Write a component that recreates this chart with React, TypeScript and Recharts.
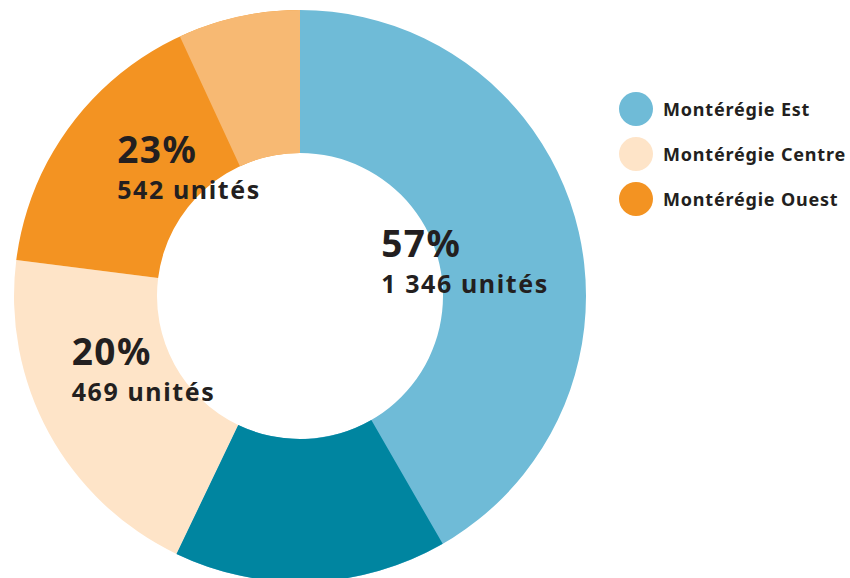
import React from "react";
import { PieChart, Pie, Cell, Legend } from "recharts";

const categories = ["Montérégie Est", "Montérégie Centre", "Montérégie Ouest"];
const units = [1346, 469, 542];
const percentLabels = ["57%", "20%", "23%"];
const unitLabels = ["1 346 unités", "469 unités", "542 unités"];
// share of each slice drawn in its accent (texture) shade, at the slice's end
const accentShares = [0.27, 0, 0.3];

const COLORS = ["#6fbbd7", "#fee4c8", "#f39322"];
const ACCENTS = ["#0085a0", "#fee4c8", "#f7b973"];
const LABEL_OFFSETS = [
  { dx: -128, dy: -86 },
  { dx: -40, dy: -34 },
  { dx: -41, dy: 28 },
];
const TEXT = "#231f20";
const FONT = "'Noto Sans', sans-serif";

const data = categories.map((name, i) => ({ name, value: units[i] }));
const accentData = categories.flatMap((name, i) => [
  { name: name + "-base", value: units[i] * (1 - accentShares[i]), fill: "transparent" },
  { name: name + "-accent", value: units[i] * accentShares[i], fill: accentShares[i] > 0 ? ACCENTS[i] : "transparent" },
]);

const RAD = Math.PI / 180;

const renderLabel = (props: any) => {
  const { cx, cy, midAngle, innerRadius, outerRadius, index } = props;
  const r = (innerRadius + outerRadius) / 2;
  const x = cx + r * Math.cos(-midAngle * RAD) + LABEL_OFFSETS[index].dx;
  const y = cy + r * Math.sin(-midAngle * RAD) + LABEL_OFFSETS[index].dy;
  return (
    <text x={x} y={y} fill={TEXT} fontFamily={FONT} fontWeight={700} textAnchor="start">
      <tspan x={x} y={y} fontSize={37} letterSpacing={1.5}>{percentLabels[index]}</tspan>
      <tspan x={x} y={y + 36} fontSize={25} letterSpacing={1.6}>{unitLabels[index]}</tspan>
    </text>
  );
};

const renderLegend = () => (
  <div style={{ fontFamily: FONT }}>
    {categories.map((c, i) => (
      <div key={c} style={{ display: "flex", alignItems: "center", height: 45 }}>
        <div style={{ width: 34, height: 34, borderRadius: "50%", background: COLORS[i], marginRight: 10 }} />
        <span style={{ fontSize: 18, fontWeight: 700, color: TEXT, letterSpacing: 0.8 }}>{c}</span>
      </div>
    ))}
  </div>
);

export default function App() {
  return (
    <div style={{ position: "absolute", left: 0, top: 0, width: 850, height: 578, background: "#fff" }}>
      <PieChart width={850} height={578} margin={{ top: 0, right: 0, bottom: 0, left: 0 }}>
        <Pie
          data={data}
          dataKey="value"
          cx={300}
          cy={296}
          innerRadius={143}
          outerRadius={286}
          startAngle={90}
          endAngle={-270}
          stroke="none"
          isAnimationActive={false}
          labelLine={false}
        >
          {data.map((d, i) => (
            <Cell key={d.name} fill={COLORS[i]} />
          ))}
        </Pie>
        <Pie
          data={accentData}
          dataKey="value"
          cx={300}
          cy={296}
          innerRadius={143}
          outerRadius={286}
          startAngle={90}
          endAngle={-270}
          stroke="none"
          isAnimationActive={false}
          legendType="none"
        >
          {accentData.map((d) => (
            <Cell key={d.name} fill={d.fill} />
          ))}
        </Pie>
        <Pie
          data={data}
          dataKey="value"
          cx={300}
          cy={296}
          innerRadius={143}
          outerRadius={286}
          startAngle={90}
          endAngle={-270}
          fill="transparent"
          stroke="none"
          isAnimationActive={false}
          label={renderLabel}
          labelLine={false}
          legendType="none"
        />
        <Legend
          content={renderLegend}
          layout="vertical"
          verticalAlign="top"
          align="right"
          wrapperStyle={{ position: "absolute", left: 619, top: 86, width: 230 }}
        />
      </PieChart>
    </div>
  );
}
